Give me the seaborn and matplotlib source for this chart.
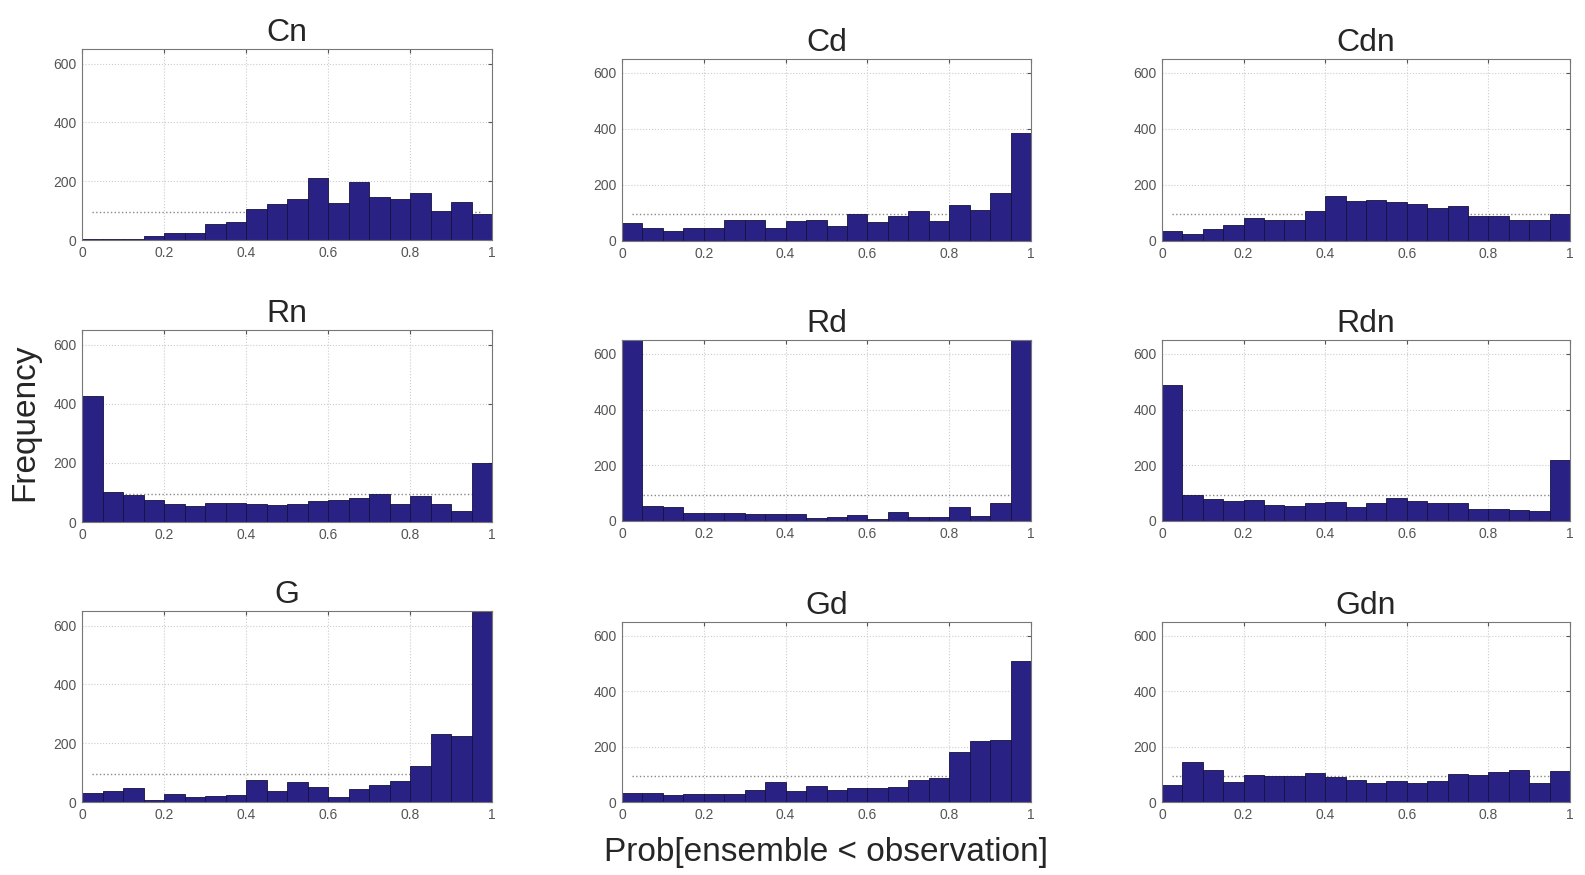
import numpy as np
import pandas as pd
import seaborn as sns
import matplotlib.pyplot as plt

# bin edges for the rank histograms (20 bins on [0, 1])
edges = np.linspace(0, 1, 21)
centers = (edges[:-1] + edges[1:]) / 2
expected = 95

panel_names = ["Cn", "Cd", "Cdn", "Rn", "Rd", "Rdn", "G", "Gd", "Gdn"]

cn = [3, 5, 5, 12, 25, 25, 54, 62, 106, 121, 140, 211, 126, 198, 146, 140, 160, 97, 129, 88]
cd = [64, 46, 36, 46, 48, 76, 76, 48, 70, 76, 54, 97, 68, 91, 106, 72, 130, 112, 172, 384]
cdn = [34, 24, 43, 58, 82, 76, 76, 106, 160, 142, 148, 139, 132, 118, 126, 91, 91, 76, 76, 96]
rn = [426, 102, 90, 76, 62, 54, 65, 65, 62, 59, 62, 70, 73, 81, 96, 62, 88, 62, 36, 200]
rd = [700, 54, 52, 28, 30, 28, 24, 24, 24, 10, 16, 20, 8, 32, 16, 16, 52, 18, 66, 700]
rdn = [488, 94, 78, 72, 76, 58, 55, 66, 70, 49, 66, 82, 73, 64, 66, 43, 43, 40, 36, 220]
g = [32, 36, 48, 8, 28, 17, 20, 25, 74, 36, 68, 51, 17, 45, 57, 71, 121, 230, 226, 645]
gd = [32, 32, 24, 30, 30, 30, 44, 71, 41, 56, 42, 50, 50, 54, 80, 86, 179, 222, 224, 510]
gdn = [60, 144, 114, 72, 96, 93, 93, 105, 90, 81, 69, 75, 69, 75, 102, 96, 108, 117, 69, 111]

counts = [cn, cd, cdn, rn, rd, rdn, g, gd, gdn]

sns.set_style("white")
plt.rcParams['font.family'] = ['Liberation Sans', 'DejaVu Sans']

W, H = 1585, 875
fig = plt.figure(figsize=(W / 100, H / 100), dpi=100)

# axes boxes in pixels: (left, right) per column, (top, bottom) per row/col
cols = [(82, 492), (622, 1031), (1162, 1570)]
rows_first = [(49, 240), (330, 522), (611, 802)]
rows_other = [(59, 241), (340, 521), (622, 802)]

bar_color = "#2a2185"

for i, name in enumerate(panel_names):
    r, c = divmod(i, 3)
    l, rr = cols[c]
    t, b = rows_first[r] if c == 0 else rows_other[r]
    ax = fig.add_axes([l / W, 1 - b / H, (rr - l) / W, (b - t) / H])

    df = pd.DataFrame({"p": centers, "n": counts[i]})
    ax.plot([centers[0], centers[-1]], [expected, expected], ls=":", color="#888888",
            lw=1.0, zorder=1)
    sns.histplot(data=df, x="p", weights="n", binwidth=0.05, binrange=(0, 1), ax=ax,
                 color=bar_color, alpha=1.0, edgecolor="#15123f", linewidth=0.6,
                 zorder=2)

    ax.set_xlim(0, 1)
    ax.set_ylim(0, 650)
    ax.set_xticks([0, 0.2, 0.4, 0.6, 0.8, 1])
    ax.set_xticklabels(["0", "0.2", "0.4", "0.6", "0.8", "1"])
    ax.set_yticks([0, 200, 400, 600])
    ax.grid(True, ls=":", color="#cccccc", lw=0.8, zorder=0)
    ax.set_axisbelow(True)
    ax.tick_params(direction="in", length=3, labelsize=10, colors="#555555",
                   top=True, right=True, pad=4)
    for s in ax.spines.values():
        s.set_color("#777777")
        s.set_linewidth(0.8)
    ax.set_xlabel("")
    ax.set_ylabel("")
    ax.set_title(name, fontsize=23, pad=6)

fig.text(25 / W, 1 - 422 / H, "Frequency", rotation=90, fontsize=24,
         ha="center", va="center")
fig.text(826 / W, 1 - 852 / H, "Prob[ensemble < observation]", fontsize=24,
         ha="center", va="center")

fig.savefig("out.png", dpi=100)
